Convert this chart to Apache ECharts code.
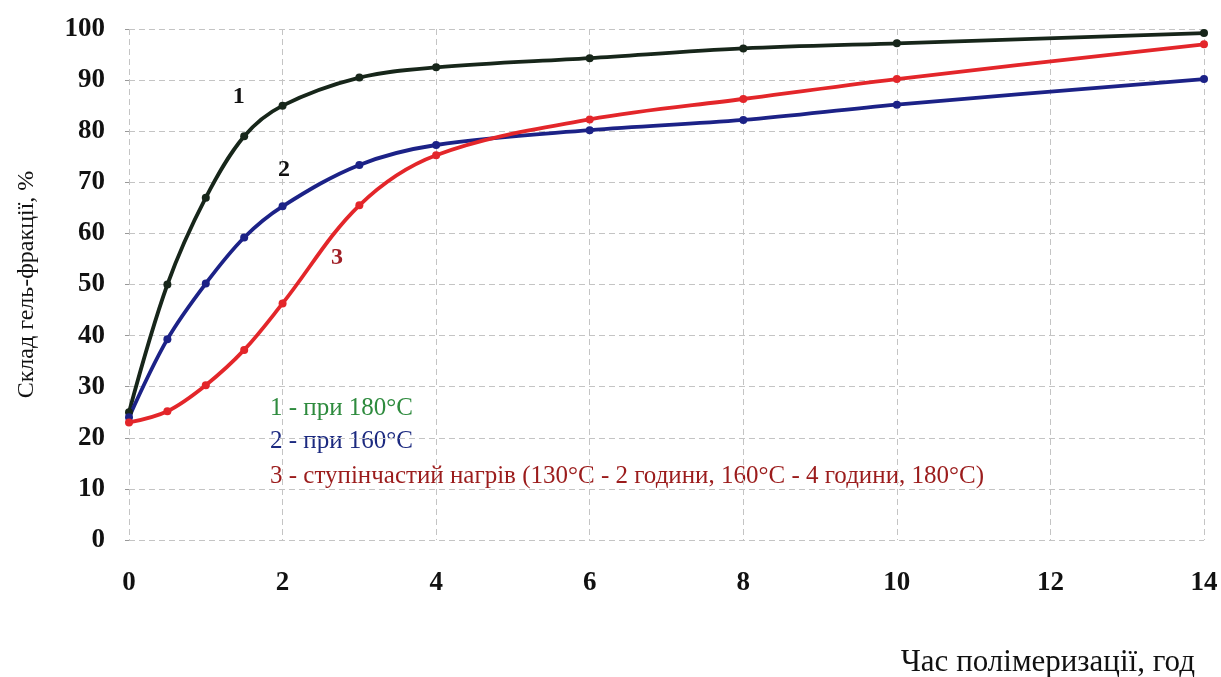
<!DOCTYPE html>
<html>
<head>
<meta charset="utf-8">
<script src="https://cdn.jsdelivr.net/npm/echarts@6/dist/echarts.min.js"></script>
<style>
  html, body { margin: 0; padding: 0; background: #fff; }
  #chart { width: 1221px; height: 677px; }
</style>
</head>
<body>
<div id="chart"></div>
<script>
// Polymerization time, hours
const hours = [0, 0.5, 1, 1.5, 2, 3, 4, 6, 8, 10, 14];
// Gel fraction content, %
const gel180 = [25, 50, 67, 79, 85, 90.5, 92.5, 94.3, 96.2, 97.2, 99.2];
const gel160 = [24, 39.3, 50.2, 59.2, 65.3, 73.4, 77.3, 80.2, 82.2, 85.2, 90.2];
const gelStep = [23, 25.2, 30.3, 37.2, 46.3, 65.5, 75.3, 82.3, 86.3, 90.2, 97];
const yTicks = [0, 10, 20, 30, 40, 50, 60, 70, 80, 90, 100];
const xTicks = [0, 2, 4, 6, 8, 10, 12, 14];

const legendLines = [
  '1 - при 180°С',
  '2 - при 160°С',
  '3 - ступінчастий нагрів (130°С - 2 години, 160°С - 4 години, 180°С)'
];

const serif = '"Liberation Serif", "Times New Roman", serif';
const pairs = ys => hours.map((h, i) => [h, ys[i]]);

function curve(name, ys, color, tag, tagPos, tagColor) {
  return {
    name: name,
    type: 'line',
    data: pairs(ys),
    smooth: 0.35,
    symbol: 'circle',
    symbolSize: 8,
    lineStyle: { color: color, width: 3.8 },
    itemStyle: { color: color },
    z: 3,
    markPoint: {
      symbol: 'circle',
      symbolSize: 0,
      data: [{ coord: tagPos, value: tag }],
      label: {
        show: true,
        formatter: tag,
        color: tagColor,
        fontFamily: serif,
        fontWeight: 'bold',
        fontSize: 24
      }
    }
  };
}

const chart = echarts.init(document.getElementById('chart'), null, { renderer: 'canvas' });

chart.setOption({
  backgroundColor: '#ffffff',
  animation: false,
  grid: { left: 129, right: 17, top: 29, bottom: 137 },
  xAxis: {
    type: 'value',
    min: 0,
    max: 14,
    interval: 2,
    axisLine: { show: false },
    axisTick: { show: false },
    axisLabel: {
      margin: 30,
      color: '#111',
      fontFamily: serif,
      fontWeight: 'bold',
      fontSize: 27,
      formatter: v => (xTicks.includes(v) ? String(v) : '')
    },
    splitLine: { show: true, lineStyle: { color: '#c4c4c4', type: [6, 4], width: 1 } }
  },
  yAxis: {
    type: 'value',
    min: 0,
    max: 100,
    interval: 10,
    name: 'Склад гель-фракції, %',
    nameLocation: 'middle',
    nameGap: 90,
    nameTextStyle: { color: '#111', fontFamily: serif, fontSize: 24 },
    axisLine: { show: false },
    axisTick: { show: true, length: 4, lineStyle: { color: '#999' } },
    axisLabel: {
      margin: 24,
      color: '#111',
      fontFamily: serif,
      fontWeight: 'bold',
      fontSize: 27,
      formatter: v => (yTicks.includes(v) ? String(v) : '')
    },
    splitLine: { show: true, lineStyle: { color: '#c4c4c4', type: [6, 4], width: 1 } }
  },
  series: [
    curve('1', gel180, '#17261a', '1', [1.43, 86.7], '#111'),
    curve('2', gel160, '#1c2287', '2', [2.02, 72.4], '#111'),
    curve('3', gelStep, '#e3262a', '3', [2.71, 55.2], '#a01f26')
  ],
  graphic: [
    {
      type: 'text', left: 270, top: 396,
      style: { text: legendLines[0], fill: '#2e8b3e', font: '25px ' + serif }
    },
    {
      type: 'text', left: 270, top: 429,
      style: { text: legendLines[1], fill: '#1c2a80', font: '25px ' + serif }
    },
    {
      type: 'text', left: 270, top: 464,
      style: { text: legendLines[2], fill: '#9b1c1c', font: '25px ' + serif }
    },
    {
      type: 'text', right: 26, top: 647,
      style: { text: 'Час полімеризації, год', fill: '#111', font: '31px ' + serif }
    }
  ]
});
</script>
</body>
</html>
